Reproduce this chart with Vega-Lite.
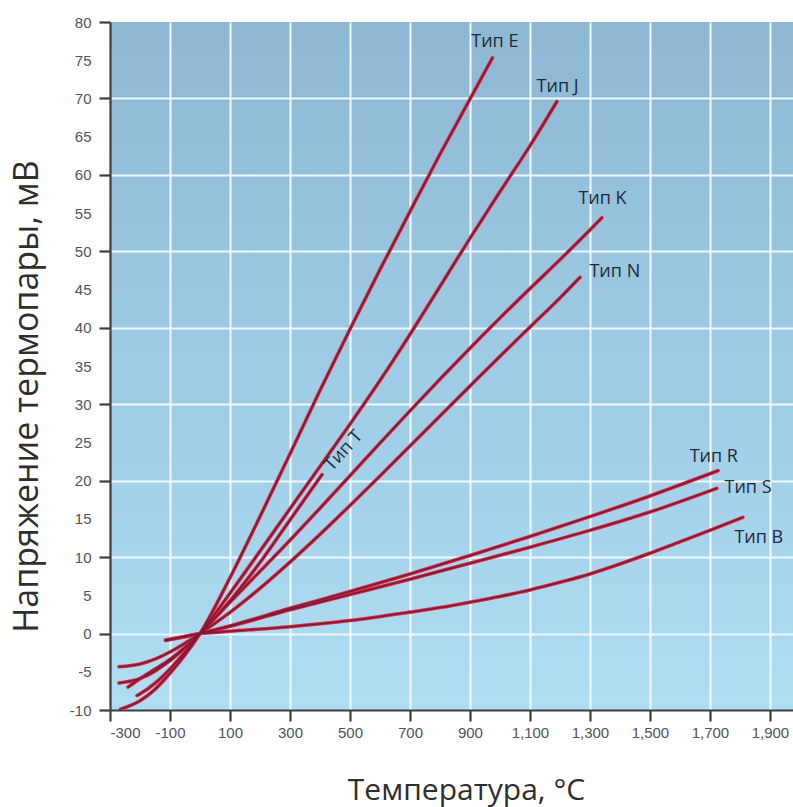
{
  "$schema": "https://vega.github.io/schema/vega-lite/v6.json",
  "width": 683,
  "height": 688,
  "autosize": {"type": "none"},
  "padding": {"left": 110, "top": 22, "right": 0, "bottom": 97},
  "background": "white",
  "config": {
    "view": {
      "stroke": null,
      "fill": {"gradient": "linear", "x1": 0, "y1": 0, "x2": 0, "y2": 1,
        "stops": [{"offset": 0, "color": "#8db7d3"}, {"offset": 0.5, "color": "#9ecbe5"}, {"offset": 1, "color": "#afddf2"}]}
    },
    "axis": {
      "domainColor": "#3a3f44",
      "domainWidth": 2.2,
      "tickColor": "#3a3f44",
      "tickWidth": 2.2,
      "tickSize": 11,
      "gridColor": "#eef8fd",
      "gridWidth": 2,
      "labelFont": "Liberation Sans",
      "labelFontSize": 15,
      "labelColor": "#505458",
      "titleFont": "Open Sans",
      "titleFontWeight": "normal",
      "titleColor": "#2e2e2e"
    }
  },
  "datasets": {
    "curves": [
      {"type": "E", "t": -265, "mv": -9.9}, {"type": "E", "t": -200, "mv": -8.8}, {"type": "E", "t": -150, "mv": -7.3}, {"type": "E", "t": -100, "mv": -5.2}, {"type": "E", "t": -50, "mv": -2.8}, {"type": "E", "t": 0, "mv": 0}, {"type": "E", "t": 100, "mv": 7.3}, {"type": "E", "t": 200, "mv": 15.3}, {"type": "E", "t": 300, "mv": 23.5}, {"type": "E", "t": 400, "mv": 31.8}, {"type": "E", "t": 500, "mv": 39.8}, {"type": "E", "t": 600, "mv": 47.6}, {"type": "E", "t": 700, "mv": 55.2}, {"type": "E", "t": 800, "mv": 62.7}, {"type": "E", "t": 900, "mv": 69.9}, {"type": "E", "t": 975, "mv": 75.3},
      {"type": "J", "t": -210, "mv": -8.1}, {"type": "J", "t": -200, "mv": -7.89}, {"type": "J", "t": -150, "mv": -6.5}, {"type": "J", "t": -100, "mv": -4.63}, {"type": "J", "t": -50, "mv": -2.43}, {"type": "J", "t": 0, "mv": 0}, {"type": "J", "t": 100, "mv": 5.27}, {"type": "J", "t": 200, "mv": 10.78}, {"type": "J", "t": 300, "mv": 16.33}, {"type": "J", "t": 400, "mv": 21.85}, {"type": "J", "t": 500, "mv": 27.39}, {"type": "J", "t": 600, "mv": 33.1}, {"type": "J", "t": 700, "mv": 39.13}, {"type": "J", "t": 800, "mv": 45.4}, {"type": "J", "t": 900, "mv": 51.7}, {"type": "J", "t": 1000, "mv": 57.8}, {"type": "J", "t": 1100, "mv": 63.8}, {"type": "J", "t": 1190, "mv": 69.6},
      {"type": "K", "t": -270, "mv": -6.46}, {"type": "K", "t": -200, "mv": -5.89}, {"type": "K", "t": -150, "mv": -4.91}, {"type": "K", "t": -100, "mv": -3.55}, {"type": "K", "t": -50, "mv": -1.89}, {"type": "K", "t": 0, "mv": 0}, {"type": "K", "t": 100, "mv": 4.1}, {"type": "K", "t": 200, "mv": 8.14}, {"type": "K", "t": 300, "mv": 12.21}, {"type": "K", "t": 400, "mv": 16.4}, {"type": "K", "t": 500, "mv": 20.64}, {"type": "K", "t": 600, "mv": 24.91}, {"type": "K", "t": 700, "mv": 29.13}, {"type": "K", "t": 800, "mv": 33.28}, {"type": "K", "t": 900, "mv": 37.33}, {"type": "K", "t": 1000, "mv": 41.28}, {"type": "K", "t": 1100, "mv": 45.12}, {"type": "K", "t": 1200, "mv": 48.9}, {"type": "K", "t": 1300, "mv": 52.8}, {"type": "K", "t": 1340, "mv": 54.4},
      {"type": "N", "t": -270, "mv": -4.35}, {"type": "N", "t": -200, "mv": -3.99}, {"type": "N", "t": -150, "mv": -3.34}, {"type": "N", "t": -100, "mv": -2.41}, {"type": "N", "t": -50, "mv": -1.27}, {"type": "N", "t": 0, "mv": 0}, {"type": "N", "t": 100, "mv": 2.77}, {"type": "N", "t": 200, "mv": 5.91}, {"type": "N", "t": 300, "mv": 9.34}, {"type": "N", "t": 400, "mv": 12.97}, {"type": "N", "t": 500, "mv": 16.75}, {"type": "N", "t": 600, "mv": 20.61}, {"type": "N", "t": 700, "mv": 24.53}, {"type": "N", "t": 800, "mv": 28.46}, {"type": "N", "t": 900, "mv": 32.37}, {"type": "N", "t": 1000, "mv": 36.26}, {"type": "N", "t": 1100, "mv": 40.09}, {"type": "N", "t": 1200, "mv": 43.9}, {"type": "N", "t": 1267, "mv": 46.6},
      {"type": "T", "t": -240, "mv": -7.0}, {"type": "T", "t": -200, "mv": -5.9}, {"type": "T", "t": -150, "mv": -4.65}, {"type": "T", "t": -100, "mv": -3.38}, {"type": "T", "t": -50, "mv": -1.82}, {"type": "T", "t": 0, "mv": 0}, {"type": "T", "t": 100, "mv": 4.28}, {"type": "T", "t": 200, "mv": 9.29}, {"type": "T", "t": 300, "mv": 14.86}, {"type": "T", "t": 407, "mv": 20.8},
      {"type": "R", "t": -115, "mv": -0.9}, {"type": "R", "t": -50, "mv": -0.4}, {"type": "R", "t": 0, "mv": 0}, {"type": "R", "t": 100, "mv": 1.0}, {"type": "R", "t": 300, "mv": 3.3}, {"type": "R", "t": 500, "mv": 5.5}, {"type": "R", "t": 700, "mv": 7.8}, {"type": "R", "t": 900, "mv": 10.2}, {"type": "R", "t": 1100, "mv": 12.7}, {"type": "R", "t": 1300, "mv": 15.3}, {"type": "R", "t": 1500, "mv": 18.0}, {"type": "R", "t": 1727, "mv": 21.3},
      {"type": "S", "t": -115, "mv": -0.85}, {"type": "S", "t": -50, "mv": -0.38}, {"type": "S", "t": 0, "mv": 0}, {"type": "S", "t": 100, "mv": 0.95}, {"type": "S", "t": 300, "mv": 3.1}, {"type": "S", "t": 500, "mv": 5.1}, {"type": "S", "t": 700, "mv": 7.1}, {"type": "S", "t": 900, "mv": 9.2}, {"type": "S", "t": 1100, "mv": 11.3}, {"type": "S", "t": 1300, "mv": 13.5}, {"type": "S", "t": 1500, "mv": 15.9}, {"type": "S", "t": 1723, "mv": 19.0},
      {"type": "B", "t": 0, "mv": 0}, {"type": "B", "t": 100, "mv": 0.3}, {"type": "B", "t": 300, "mv": 0.9}, {"type": "B", "t": 500, "mv": 1.7}, {"type": "B", "t": 700, "mv": 2.8}, {"type": "B", "t": 800, "mv": 3.4}, {"type": "B", "t": 900, "mv": 4.1}, {"type": "B", "t": 1000, "mv": 4.85}, {"type": "B", "t": 1100, "mv": 5.7}, {"type": "B", "t": 1200, "mv": 6.7}, {"type": "B", "t": 1300, "mv": 7.8}, {"type": "B", "t": 1400, "mv": 9.1}, {"type": "B", "t": 1500, "mv": 10.5}, {"type": "B", "t": 1600, "mv": 12.0}, {"type": "B", "t": 1700, "mv": 13.5}, {"type": "B", "t": 1810, "mv": 15.2}
    ],
    "labels": [
      {"type": "E", "label": "Тип E", "t": 983, "mv": 77.4},
      {"type": "J", "label": "Тип J", "t": 1192, "mv": 71.5},
      {"type": "K", "label": "Тип K", "t": 1342, "mv": 56.8},
      {"type": "N", "label": "Тип N", "t": 1383, "mv": 47.3},
      {"type": "T", "label": "Тип T", "t": 480, "mv": 23.9},
      {"type": "R", "label": "Тип R", "t": 1713, "mv": 23.1},
      {"type": "S", "label": "Тип S", "t": 1827, "mv": 19.1},
      {"type": "B", "label": "Тип B", "t": 1863, "mv": 12.5}
    ]
  },
  "encoding": {
    "x": {
      "field": "t", "type": "quantitative",
      "scale": {"domain": [-300, 1977], "nice": false, "zero": false},
      "axis": {
        "values": [-300, -100, 100, 300, 500, 700, 900, 1100, 1300, 1500, 1700, 1900],
        "format": ",d",
        "labelExpr": "replace(datum.label, '−', '-')",
        "labelPadding": 4,
        "gridOpacity": {"condition": {"test": "datum.value === -300", "value": 0}, "value": 1},
        "title": "Температура, °C",
        "titleFontSize": 30,
        "titleX": 356,
        "titleY": 89,
        "titleAlign": "center",
        "titleBaseline": "alphabetic"
      }
    },
    "y": {
      "field": "mv", "type": "quantitative",
      "scale": {"domain": [-10, 80], "nice": false, "zero": false},
      "axis": {
        "values": [-10, -5, 0, 5, 10, 15, 20, 25, 30, 35, 40, 45, 50, 55, 60, 65, 70, 75, 80],
        "labelExpr": "replace(datum.label, '−', '-')",
        "labelPadding": 8,
        "tickOpacity": {"condition": {"test": "datum.value % 10 === 0", "value": 1}, "value": 0},
        "gridOpacity": {"condition": {"test": "datum.value % 10 === 0 && datum.value > -10 && datum.value < 80", "value": 1}, "value": 0},
        "title": "Напряжение термопары, мВ",
        "titleFontSize": 34,
        "titleAngle": -90,
        "titleX": -73,
        "titleY": 374,
        "titleAlign": "center",
        "titleBaseline": "alphabetic"
      }
    }
  },
  "layer": [
    {
      "data": {"name": "curves"},
      "mark": {"type": "line", "interpolate": "monotone", "stroke": "#d9293f", "strokeWidth": 3.6, "strokeCap": "round", "clip": true},
      "encoding": {"detail": {"field": "type"}}
    },
    {
      "data": {"name": "curves"},
      "mark": {"type": "line", "interpolate": "monotone", "stroke": "#7c1a3a", "strokeWidth": 1.6, "strokeCap": "round", "clip": true},
      "encoding": {"detail": {"field": "type"}}
    },
    {
      "data": {"name": "labels"},
      "mark": {"type": "text", "font": "Open Sans", "fontSize": 18, "color": "#1e2b38", "align": "center", "baseline": "middle"},
      "encoding": {
        "text": {"field": "label"},
        "angle": {"condition": {"test": "datum.type === 'T'", "value": -48}, "value": 0}
      }
    }
  ]
}
